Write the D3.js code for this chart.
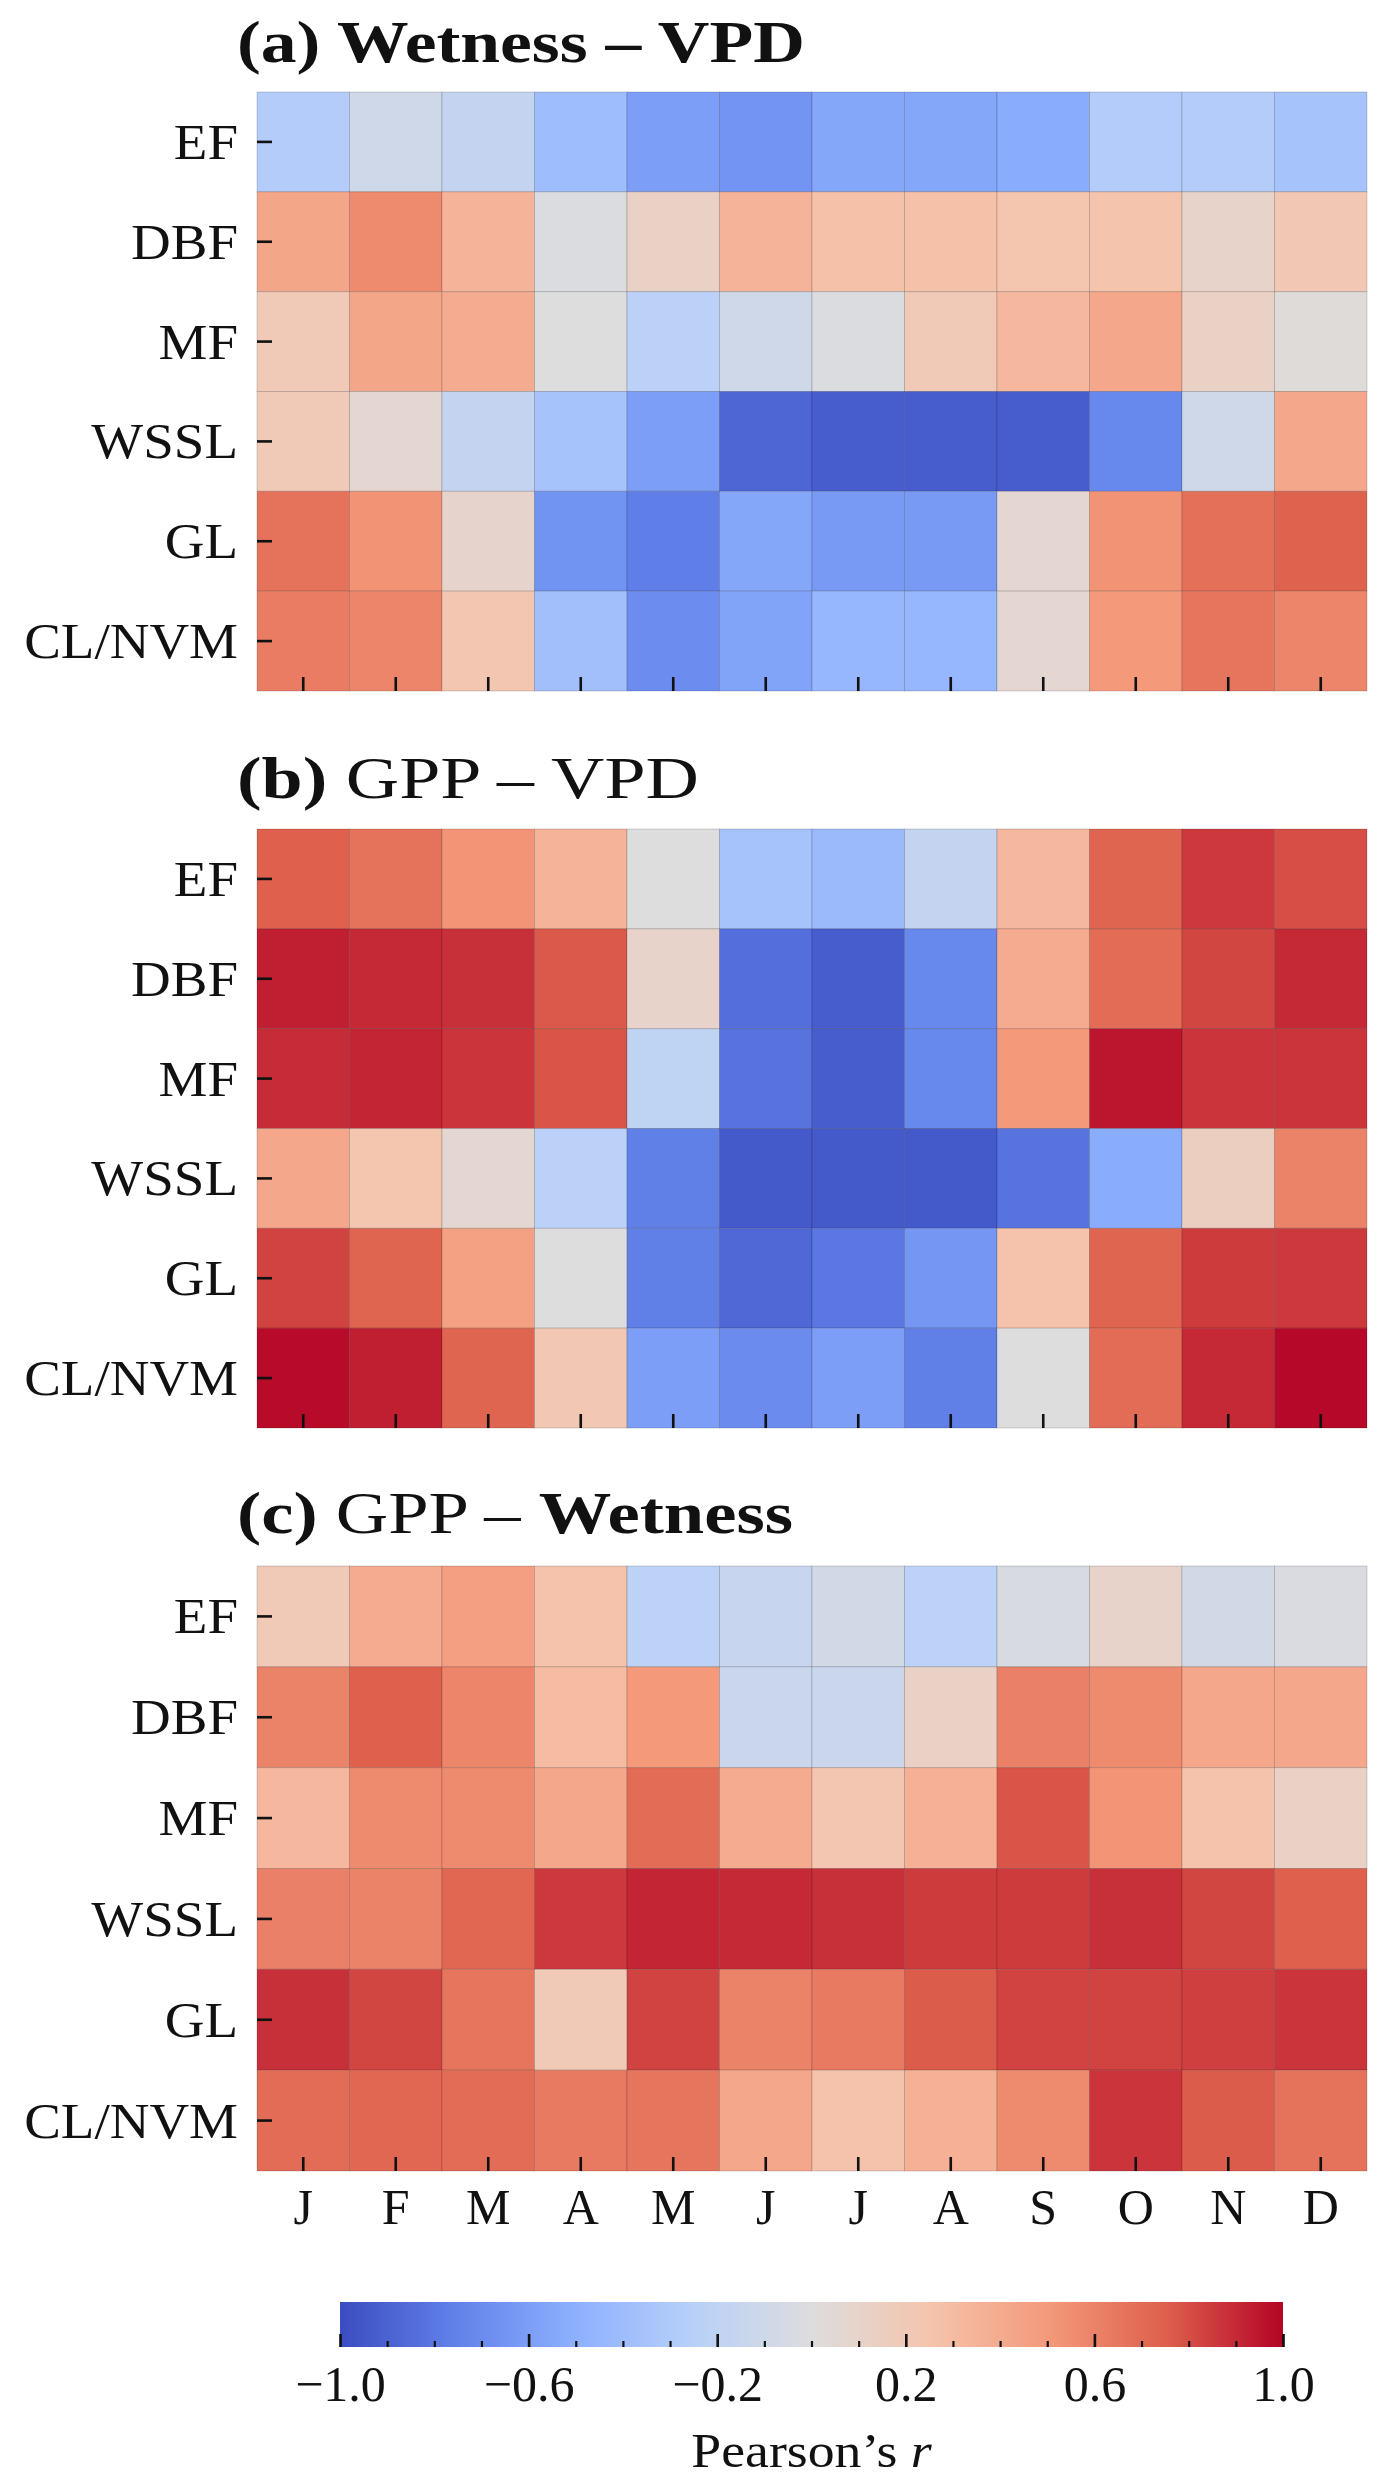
<!DOCTYPE html>
<html>
<head>
<meta charset="utf-8">
<script src="https://cdn.jsdelivr.net/npm/d3@7"></script>
<style>html,body{margin:0;padding:0;background:#fff}</style>
</head>
<body>
<svg id="chart" width="1389" height="2489"></svg>
<script>
// ---------------- data ----------------
const months = ["J","F","M","A","M","J","J","A","S","O","N","D"];
const biomes = ["EF","DBF","MF","WSSL","GL","CL/NVM"];

// (a) Wetness – VPD  (rows = biomes, cols = months)
const wetnessVPD = [
  [-0.28,-0.10,-0.17,-0.40,-0.60,-0.65,-0.55,-0.55,-0.52,-0.28,-0.28,-0.35],
  [ 0.43, 0.57, 0.35,-0.02, 0.12, 0.35, 0.27, 0.27, 0.24, 0.25, 0.10, 0.22],
  [ 0.20, 0.43, 0.40, 0.00,-0.23,-0.10,-0.02, 0.20, 0.32, 0.42, 0.12, 0.02],
  [ 0.20, 0.07,-0.17,-0.35,-0.60,-0.88,-0.92,-0.92,-0.92,-0.72,-0.10, 0.42],
  [ 0.67, 0.53, 0.09,-0.66,-0.77,-0.55,-0.62,-0.62, 0.07, 0.53, 0.68, 0.74],
  [ 0.63, 0.59, 0.23,-0.38,-0.69,-0.57,-0.45,-0.45, 0.07, 0.50, 0.66, 0.59]
];
// (b) GPP – VPD
const gppVPD = [
  [ 0.75, 0.67, 0.52, 0.35, 0.00,-0.35,-0.42,-0.17, 0.33, 0.73, 0.86, 0.80],
  [ 0.93, 0.90, 0.88, 0.77, 0.10,-0.84,-0.92,-0.72, 0.40, 0.70, 0.82, 0.90],
  [ 0.89, 0.91, 0.87, 0.78,-0.20,-0.82,-0.92,-0.72, 0.50, 0.95, 0.87, 0.87],
  [ 0.42, 0.24, 0.07,-0.23,-0.76,-0.94,-0.94,-0.94,-0.82,-0.52, 0.15, 0.60],
  [ 0.83, 0.73, 0.46, 0.00,-0.76,-0.87,-0.80,-0.64, 0.26, 0.73, 0.85, 0.86],
  [ 0.98, 0.93, 0.73, 0.22,-0.60,-0.70,-0.60,-0.76, 0.00, 0.70, 0.90, 0.99]
];
// (c) GPP – Wetness
const gppWetness = [
  [ 0.20, 0.40, 0.47, 0.26,-0.22,-0.15,-0.08,-0.22,-0.04, 0.10,-0.08,-0.03],
  [ 0.60, 0.75, 0.59, 0.30, 0.50,-0.13,-0.13, 0.12, 0.61, 0.57, 0.42, 0.42],
  [ 0.33, 0.57, 0.57, 0.42, 0.70, 0.40, 0.23, 0.37, 0.78, 0.52, 0.26, 0.12],
  [ 0.61, 0.60, 0.72, 0.86, 0.91, 0.90, 0.88, 0.85, 0.85, 0.88, 0.82, 0.75],
  [ 0.88, 0.82, 0.66, 0.20, 0.83, 0.60, 0.64, 0.76, 0.83, 0.83, 0.84, 0.87],
  [ 0.70, 0.72, 0.70, 0.64, 0.66, 0.42, 0.26, 0.37, 0.57, 0.87, 0.76, 0.67]
];
const panelData = [wetnessVPD, gppVPD, gppWetness];

// titles: [text, bold?] parts
const panelTitles = [
  [["(a) Wetness \u2013 VPD", true]],
  [["(b) ", true], ["GPP \u2013 VPD", false]],
  [["(c) ", true], ["GPP \u2013 ", false], ["Wetness", true]]
];

const cbMajorTicks = [-1.0,-0.6,-0.2,0.2,0.6,1.0];
const cbMinorTicks = [-0.9,-0.8,-0.7,-0.5,-0.4,-0.3,-0.1,0.0,0.1,0.3,0.4,0.5,0.7,0.8,0.9];
const cbLabel = "Pearson\u2019s ";
const cbLabelItalic = "r";

// coolwarm colormap anchors (matplotlib)
const coolwarm = ["#3b4cc0","#6282ea","#8db0fe","#b8d0f9","#dddddd","#f5c4ad","#f49a7b","#de604d","#b40426"];

// ---------------- layout ----------------
const W = 1389, H = 2489;
const left = 257, right = 1367;
const panelTops = [92, 829, 1566];
const panelBottoms = [691, 1428, 2171];
const titleBaselines = [62, 798, 1533];
const titleWidths = [568, 462, 556];
const titleX = 237;
const serif = "'Liberation Serif','Times New Roman',serif";

const svg = d3.select("#chart");
svg.append("rect").attr("width", W).attr("height", H).attr("fill", "#fff");

const color = d3.scaleLinear()
  .domain(coolwarm.map((_, i) => -1 + i * 0.25))
  .range(coolwarm)
  .interpolate(d3.interpolateRgb)
  .clamp(true);

const x = d3.scaleBand().domain(d3.range(months.length)).range([left, right]);

panelData.forEach((data, p) => {
  const top = panelTops[p], bottom = panelBottoms[p];
  const y = d3.scaleBand().domain(biomes).range([top, bottom]);
  const g = svg.append("g");

  // cells
  data.forEach((row, r) => {
    g.selectAll(null).data(row).enter().append("rect")
      .attr("x", (d, c) => x(c))
      .attr("y", y(biomes[r]))
      .attr("width", x.bandwidth())
      .attr("height", y.bandwidth())
      .attr("fill", d => color(d))
      .attr("stroke", "rgba(0,0,0,0.16)")
      .attr("stroke-width", 1);
  });

  // bottom axis (ticks inward)
  const isLast = p === panelData.length - 1;
  const ax = g.append("g").attr("transform", `translate(0,${bottom})`)
    .call(d3.axisBottom(x).tickSize(-14).tickFormat(i => isLast ? months[i] : ""));
  ax.select(".domain").remove();
  ax.selectAll(".tick line").attr("stroke", "#111").attr("stroke-width", 2.6);
  ax.selectAll(".tick text")
    .attr("y", 2224 - 2171).attr("dy", 0)
    .attr("font-family", serif).attr("font-size", 50).attr("fill", "#111");

  // left axis (ticks inward)
  const ay = g.append("g").attr("transform", `translate(${left},0)`)
    .call(d3.axisLeft(y).tickSize(-15).tickPadding(19));
  ay.select(".domain").remove();
  ay.selectAll(".tick line").attr("stroke", "#111").attr("stroke-width", 2.6);
  ay.selectAll(".tick text")
    .attr("x", -19 / 1.1).attr("dy", "0.34em")
    .attr("transform", "scale(1.1,1)")
    .attr("font-family", serif).attr("font-size", 50).attr("fill", "#111");

  // title
  const t = svg.append("text")
    .attr("x", 0).attr("y", 0)
    .attr("font-family", serif).attr("font-size", 60).attr("fill", "#111");
  panelTitles[p].forEach(([txt, bold]) => {
    t.append("tspan").attr("font-weight", bold ? "bold" : "normal").text(txt);
  });
  const len = t.node().getComputedTextLength();
  const s = titleWidths[p] / len;
  t.attr("transform", `translate(${titleX},${titleBaselines[p]}) scale(${s},1)`);
});

// ---------------- colorbar ----------------
const cbLeft = 340, cbRight = 1283, cbTop = 2302, cbBottom = 2347;
const cbx = d3.scaleLinear().domain([-1, 1]).range([cbLeft, cbRight]);
const grad = svg.append("defs").append("linearGradient")
  .attr("id", "cwgrad").attr("x1", "0%").attr("x2", "100%").attr("y1", "0%").attr("y2", "0%");
const stopVals = d3.range(0, 41).map(i => -1 + i * 0.05);
grad.selectAll("stop").data(stopVals).enter().append("stop")
  .attr("offset", d => ((d + 1) / 2 * 100) + "%")
  .attr("stop-color", d => color(d));
svg.append("rect")
  .attr("x", cbx(-1)).attr("y", cbTop)
  .attr("width", cbx(1) - cbx(-1)).attr("height", cbBottom - cbTop)
  .attr("fill", "url(#cwgrad)");

const cbMinor = svg.append("g").attr("transform", `translate(0,${cbBottom})`)
  .call(d3.axisBottom(cbx).tickValues(cbMinorTicks).tickSize(-6).tickFormat(""));
cbMinor.select(".domain").remove();
cbMinor.selectAll(".tick line").attr("stroke", "#111").attr("stroke-width", 2.2);

const cbMajor = svg.append("g").attr("transform", `translate(0,${cbBottom})`)
  .call(d3.axisBottom(cbx).tickValues(cbMajorTicks).tickSize(-13)
    .tickFormat(d => (d < 0 ? "\u2212" : "") + Math.abs(d).toFixed(1)));
cbMajor.select(".domain").remove();
cbMajor.selectAll(".tick line").attr("stroke", "#111").attr("stroke-width", 2.6);
cbMajor.selectAll(".tick text")
  .attr("y", 2401 - cbBottom).attr("dy", 0)
  .attr("font-family", serif).attr("font-size", 50).attr("fill", "#111");

const lab = svg.append("text")
  .attr("text-anchor", "middle")
  .attr("transform", `translate(${(cbLeft + cbRight) / 2},2467) scale(1.12,1)`)
  .attr("font-family", serif).attr("font-size", 48).attr("fill", "#111");
lab.append("tspan").text(cbLabel);
lab.append("tspan").attr("font-style", "italic").text(cbLabelItalic);
</script>
</body>
</html>
